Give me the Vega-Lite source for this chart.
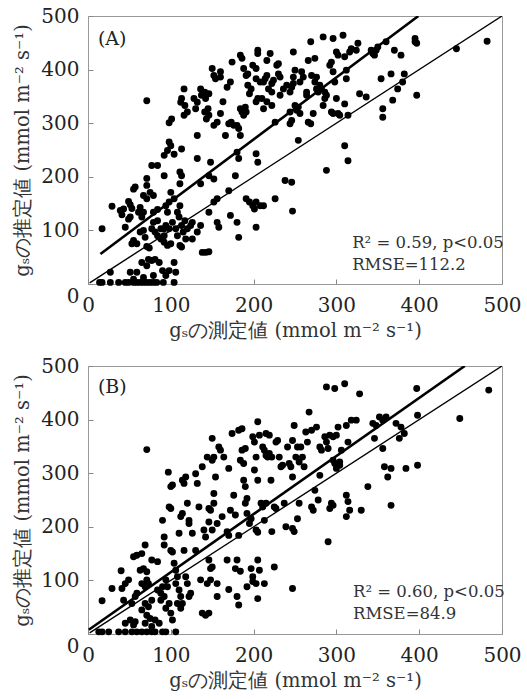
{
  "$schema": "https://vega.github.io/schema/vega-lite/v6.json",
  "background": "white",
  "padding": {"left": 12, "top": 5, "right": 10, "bottom": 5},
  "spacing": 15,
  "datasets": {
    "ptsA": [
      {"x":14,"y":3},{"x":17,"y":3},{"x":27,"y":3},{"x":37,"y":3},{"x":45,"y":3},{"x":49,"y":3},{"x":55,"y":3},{"x":59,"y":3},{"x":63,"y":3},{"x":67,"y":3},{"x":71,"y":3},{"x":75,"y":3},{"x":79,"y":3},{"x":83,"y":3},{"x":91,"y":3},{"x":104,"y":3},
      {"x":27,"y":22},{"x":51,"y":22},{"x":59,"y":22},{"x":71,"y":34},{"x":77,"y":44},{"x":65,"y":40},{"x":86,"y":40},{"x":90,"y":25},{"x":98,"y":25},{"x":104,"y":40},{"x":55,"y":9},{"x":67,"y":12},{"x":79,"y":16},{"x":94,"y":16},{"x":106,"y":22},{"x":73,"y":46},{"x":81,"y":46},
      {"x":17,"y":103},{"x":29,"y":145},{"x":39,"y":137},{"x":41,"y":129},{"x":43,"y":140},{"x":45,"y":106},{"x":49,"y":154},{"x":51,"y":148},{"x":53,"y":141},{"x":49,"y":121},{"x":51,"y":125},{"x":55,"y":177},{"x":57,"y":181},{"x":55,"y":81},{"x":53,"y":75},{"x":59,"y":75},{"x":61,"y":134},{"x":63,"y":143},{"x":65,"y":125},{"x":67,"y":134},{"x":71,"y":184},{"x":71,"y":197},{"x":67,"y":165},{"x":71,"y":159},{"x":63,"y":97},{"x":67,"y":100},{"x":69,"y":87},{"x":71,"y":70},{"x":74,"y":67},
      {"x":71,"y":342},{"x":77,"y":221},{"x":84,"y":221},{"x":79,"y":165},{"x":75,"y":171},{"x":79,"y":134},{"x":84,"y":139},{"x":79,"y":115},{"x":84,"y":118},{"x":77,"y":103},{"x":81,"y":97},{"x":88,"y":103},{"x":84,"y":90},{"x":88,"y":84},{"x":92,"y":90},{"x":92,"y":202},{"x":92,"y":240},{"x":96,"y":249},{"x":98,"y":265},{"x":100,"y":258},{"x":94,"y":146},{"x":98,"y":153},{"x":96,"y":134},{"x":104,"y":159},{"x":100,"y":171},{"x":94,"y":109},{"x":92,"y":103},{"x":98,"y":103},{"x":102,"y":115},{"x":96,"y":72},{"x":92,"y":78},{"x":100,"y":75},{"x":98,"y":301},{"x":101,"y":308},{"x":104,"y":242},
      {"x":106,"y":103},{"x":108,"y":90},{"x":111,"y":72},{"x":113,"y":69},{"x":108,"y":134},{"x":111,"y":146},{"x":111,"y":209},{"x":113,"y":202},{"x":111,"y":187},{"x":113,"y":252},{"x":112,"y":339},{"x":113,"y":346},{"x":116,"y":364},{"x":113,"y":109},{"x":117,"y":118},{"x":120,"y":103},{"x":124,"y":109},{"x":117,"y":333},{"x":120,"y":321},{"x":116,"y":315},{"x":126,"y":84},{"x":132,"y":97},{"x":128,"y":346},{"x":130,"y":327},{"x":132,"y":339},{"x":132,"y":277},{"x":136,"y":364},{"x":132,"y":234},{"x":136,"y":187},{"x":138,"y":59},{"x":142,"y":59},{"x":146,"y":60},{"x":136,"y":109},{"x":110,"y":125},{"x":115,"y":97},{"x":126,"y":115},{"x":118,"y":84},
      {"x":137,"y":352},{"x":141,"y":358},{"x":142,"y":346},{"x":146,"y":355},{"x":141,"y":321},{"x":145,"y":327},{"x":146,"y":315},{"x":143,"y":308},{"x":150,"y":402},{"x":152,"y":389},{"x":154,"y":383},{"x":148,"y":227},{"x":146,"y":202},{"x":152,"y":196},{"x":146,"y":134},{"x":152,"y":153},{"x":156,"y":159},{"x":156,"y":115},{"x":158,"y":106},{"x":152,"y":296},{"x":156,"y":302},{"x":160,"y":318},{"x":160,"y":396},{"x":160,"y":386},{"x":163,"y":340},{"x":168,"y":367},{"x":172,"y":377},{"x":166,"y":277},{"x":170,"y":299},{"x":173,"y":302},{"x":170,"y":174},{"x":172,"y":128},{"x":174,"y":414},
      {"x":176,"y":296},{"x":180,"y":296},{"x":182,"y":290},{"x":178,"y":202},{"x":180,"y":246},{"x":180,"y":115},{"x":182,"y":87},{"x":184,"y":427},{"x":186,"y":421},{"x":184,"y":327},{"x":186,"y":321},{"x":190,"y":330},{"x":188,"y":315},{"x":191,"y":321},{"x":184,"y":277},{"x":182,"y":234},{"x":188,"y":402},{"x":191,"y":389},{"x":193,"y":371},{"x":195,"y":355},{"x":197,"y":364},{"x":193,"y":392},{"x":191,"y":159},{"x":195,"y":153},{"x":199,"y":146},{"x":203,"y":153},{"x":201,"y":140},{"x":208,"y":146},{"x":212,"y":146},{"x":203,"y":106},
      {"x":199,"y":408},{"x":203,"y":402},{"x":205,"y":436},{"x":205,"y":430},{"x":203,"y":340},{"x":205,"y":346},{"x":203,"y":383},{"x":203,"y":243},{"x":205,"y":227},{"x":208,"y":377},{"x":212,"y":377},{"x":214,"y":383},{"x":216,"y":389},{"x":210,"y":346},{"x":212,"y":327},{"x":216,"y":340},{"x":222,"y":333},{"x":216,"y":417},{"x":220,"y":430},{"x":222,"y":374},{"x":224,"y":380},{"x":218,"y":364},{"x":222,"y":358},{"x":226,"y":302},{"x":228,"y":408},{"x":230,"y":392},{"x":230,"y":411},{"x":232,"y":386},{"x":226,"y":159},{"x":232,"y":352},{"x":236,"y":364},{"x":238,"y":193},
      {"x":240,"y":371},{"x":244,"y":358},{"x":244,"y":321},{"x":246,"y":305},{"x":244,"y":299},{"x":246,"y":367},{"x":248,"y":374},{"x":248,"y":433},{"x":250,"y":399},{"x":248,"y":386},{"x":246,"y":190},{"x":247,"y":136},{"x":250,"y":333},{"x":252,"y":324},{"x":254,"y":330},{"x":256,"y":318},{"x":254,"y":268},{"x":256,"y":377},{"x":260,"y":386},{"x":258,"y":396},{"x":264,"y":358},{"x":264,"y":352},{"x":266,"y":417},{"x":269,"y":452},{"x":266,"y":302},{"x":269,"y":299},{"x":272,"y":318},{"x":270,"y":389},{"x":274,"y":377},{"x":276,"y":386},{"x":276,"y":364},{"x":278,"y":358},{"x":280,"y":371},{"x":274,"y":421},
      {"x":284,"y":461},{"x":286,"y":346},{"x":284,"y":333},{"x":282,"y":364},{"x":286,"y":358},{"x":288,"y":352},{"x":288,"y":212},{"x":292,"y":408},{"x":294,"y":414},{"x":296,"y":396},{"x":298,"y":377},{"x":296,"y":458},{"x":294,"y":321},{"x":296,"y":318},{"x":300,"y":346},{"x":300,"y":433},{"x":302,"y":427},{"x":302,"y":318},{"x":304,"y":315},{"x":308,"y":464},{"x":310,"y":424},{"x":312,"y":383},{"x":312,"y":399},{"x":310,"y":258},{"x":314,"y":230},{"x":310,"y":336},{"x":314,"y":315},{"x":316,"y":433},{"x":318,"y":439},{"x":324,"y":436},{"x":326,"y":449},{"x":328,"y":355},{"x":336,"y":349},
      {"x":342,"y":436},{"x":344,"y":430},{"x":346,"y":427},{"x":348,"y":436},{"x":350,"y":442},{"x":354,"y":383},{"x":356,"y":311},{"x":356,"y":327},{"x":360,"y":452},{"x":366,"y":392},{"x":368,"y":343},{"x":370,"y":436},{"x":374,"y":364},{"x":378,"y":427},{"x":380,"y":377},{"x":382,"y":392},{"x":395,"y":458},{"x":395,"y":452},{"x":397,"y":449},{"x":397,"y":352},{"x":445,"y":439},{"x":482,"y":453}
    ],
    "ptsB": [
      {"x":13,"y":4},{"x":17,"y":4},{"x":25,"y":4},{"x":37,"y":4},{"x":45,"y":4},{"x":53,"y":4},{"x":59,"y":4},{"x":65,"y":4},{"x":71,"y":4},{"x":77,"y":4},{"x":81,"y":4},{"x":90,"y":4},{"x":94,"y":4},{"x":106,"y":4},
      {"x":17,"y":62},{"x":29,"y":85},{"x":40,"y":118},{"x":41,"y":85},{"x":43,"y":63},{"x":45,"y":94},{"x":49,"y":101},{"x":45,"y":20},{"x":51,"y":26},{"x":55,"y":17},{"x":57,"y":23},{"x":53,"y":57},{"x":57,"y":70},{"x":59,"y":76},{"x":55,"y":144},{"x":59,"y":147},{"x":65,"y":150},{"x":69,"y":166},{"x":63,"y":119},{"x":67,"y":122},{"x":71,"y":116},{"x":65,"y":94},{"x":69,"y":88},{"x":73,"y":94},{"x":71,"y":101},{"x":69,"y":57},{"x":73,"y":51},{"x":77,"y":63},{"x":65,"y":45},{"x":71,"y":35},{"x":75,"y":29},{"x":81,"y":26},{"x":86,"y":20},{"x":77,"y":14},{"x":69,"y":20},
      {"x":71,"y":344},{"x":77,"y":138},{"x":84,"y":135},{"x":84,"y":82},{"x":88,"y":76},{"x":90,"y":88},{"x":92,"y":70},{"x":88,"y":63},{"x":90,"y":212},{"x":92,"y":181},{"x":92,"y":166},{"x":94,"y":101},{"x":96,"y":88},{"x":98,"y":57},{"x":94,"y":48},{"x":100,"y":39},{"x":102,"y":26},{"x":97,"y":302},{"x":98,"y":237},{"x":100,"y":234},{"x":100,"y":275},{"x":102,"y":278},{"x":100,"y":156},{"x":102,"y":153},{"x":104,"y":132},{"x":106,"y":119},{"x":108,"y":107},{"x":106,"y":94},{"x":110,"y":82},{"x":112,"y":70},{"x":108,"y":57},{"x":112,"y":48},{"x":114,"y":57},
      {"x":110,"y":188},{"x":112,"y":219},{"x":114,"y":225},{"x":114,"y":287},{"x":116,"y":281},{"x":118,"y":293},{"x":116,"y":156},{"x":118,"y":107},{"x":120,"y":94},{"x":122,"y":70},{"x":124,"y":76},{"x":120,"y":244},{"x":122,"y":212},{"x":122,"y":206},{"x":126,"y":188},{"x":130,"y":156},{"x":130,"y":299},{"x":132,"y":281},{"x":134,"y":237},{"x":136,"y":101},{"x":138,"y":312},{"x":140,"y":194},{"x":142,"y":181},{"x":138,"y":39},{"x":142,"y":35},{"x":146,"y":39},{"x":144,"y":330},{"x":146,"y":234},{"x":148,"y":231},{"x":146,"y":209},{"x":150,"y":194},{"x":146,"y":138},{"x":148,"y":122},{"x":150,"y":125},{"x":144,"y":94},{"x":148,"y":101},
      {"x":150,"y":365},{"x":152,"y":330},{"x":150,"y":324},{"x":152,"y":262},{"x":152,"y":244},{"x":156,"y":70},{"x":156,"y":94},{"x":154,"y":293},{"x":156,"y":206},{"x":158,"y":349},{"x":160,"y":343},{"x":162,"y":219},{"x":164,"y":330},{"x":168,"y":191},{"x":170,"y":184},{"x":168,"y":138},{"x":170,"y":83},{"x":170,"y":309},{"x":172,"y":231},{"x":174,"y":374},{"x":176,"y":259},{"x":178,"y":222},{"x":178,"y":122},{"x":180,"y":70},{"x":182,"y":54},{"x":180,"y":138},{"x":182,"y":184},
      {"x":182,"y":380},{"x":186,"y":383},{"x":184,"y":324},{"x":188,"y":318},{"x":184,"y":117},{"x":186,"y":343},{"x":190,"y":346},{"x":188,"y":287},{"x":190,"y":275},{"x":192,"y":253},{"x":190,"y":244},{"x":192,"y":225},{"x":195,"y":206},{"x":197,"y":215},{"x":192,"y":88},{"x":197,"y":122},{"x":199,"y":107},{"x":199,"y":368},{"x":201,"y":358},{"x":203,"y":330},{"x":199,"y":98},{"x":203,"y":94},{"x":205,"y":66},{"x":203,"y":194},{"x":205,"y":190},{"x":205,"y":138},{"x":207,"y":119},{"x":201,"y":306},{"x":205,"y":287},{"x":205,"y":396},{"x":207,"y":371},
      {"x":209,"y":244},{"x":211,"y":237},{"x":213,"y":94},{"x":211,"y":349},{"x":213,"y":343},{"x":215,"y":333},{"x":217,"y":330},{"x":219,"y":337},{"x":222,"y":330},{"x":213,"y":212},{"x":215,"y":244},{"x":215,"y":374},{"x":219,"y":371},{"x":221,"y":287},{"x":222,"y":191},{"x":225,"y":125},{"x":225,"y":237},{"x":227,"y":234},{"x":227,"y":358},{"x":229,"y":361},{"x":231,"y":330},{"x":233,"y":312},{"x":235,"y":315},{"x":237,"y":244},{"x":239,"y":200},
      {"x":241,"y":349},{"x":243,"y":318},{"x":245,"y":312},{"x":247,"y":293},{"x":247,"y":361},{"x":249,"y":389},{"x":247,"y":197},{"x":249,"y":191},{"x":247,"y":85},{"x":251,"y":330},{"x":253,"y":349},{"x":255,"y":321},{"x":253,"y":215},{"x":255,"y":244},{"x":257,"y":349},{"x":259,"y":330},{"x":261,"y":312},{"x":263,"y":377},{"x":265,"y":358},{"x":267,"y":414},{"x":270,"y":380},{"x":270,"y":237},{"x":272,"y":231},{"x":274,"y":268},{"x":276,"y":386},{"x":278,"y":250},{"x":280,"y":349},{"x":280,"y":296},{"x":282,"y":343},{"x":286,"y":368},
      {"x":288,"y":461},{"x":290,"y":346},{"x":290,"y":172},{"x":288,"y":358},{"x":292,"y":234},{"x":294,"y":244},{"x":296,"y":240},{"x":292,"y":371},{"x":296,"y":368},{"x":300,"y":371},{"x":298,"y":458},{"x":296,"y":324},{"x":298,"y":318},{"x":300,"y":309},{"x":302,"y":386},{"x":304,"y":315},{"x":304,"y":321},{"x":306,"y":343},{"x":310,"y":467},{"x":312,"y":259},{"x":312,"y":219},{"x":312,"y":389},{"x":314,"y":358},{"x":316,"y":231},{"x":314,"y":247},{"x":318,"y":399},{"x":324,"y":399},{"x":328,"y":448},{"x":330,"y":231},{"x":338,"y":275},
      {"x":344,"y":393},{"x":346,"y":365},{"x":348,"y":389},{"x":352,"y":405},{"x":356,"y":399},{"x":356,"y":346},{"x":358,"y":312},{"x":360,"y":405},{"x":362,"y":293},{"x":366,"y":309},{"x":366,"y":240},{"x":372,"y":393},{"x":376,"y":365},{"x":378,"y":386},{"x":382,"y":374},{"x":384,"y":309},{"x":397,"y":458},{"x":398,"y":408},{"x":398,"y":315},{"x":449,"y":402},{"x":484,"y":455}
    ],
    "linesA": [
      {"x":15,"y":56,"k":"fit"},{"x":399,"y":500,"k":"fit"},{"x":2,"y":2,"k":"one"},{"x":500,"y":500,"k":"one"}
    ],
    "linesB": [
      {"x":1,"y":8,"k":"fit"},{"x":455,"y":500,"k":"fit"},{"x":2,"y":2,"k":"one"},{"x":500,"y":500,"k":"one"}
    ],
    "notesA": [
      {"x":319,"y":77,"t":"R² = 0.59, p<0.05"},{"x":319,"y":35,"t":"RMSE=112.2"}
    ],
    "notesB": [
      {"x":320,"y":79,"t":"R² = 0.60, p<0.05"},{"x":320,"y":38,"t":"RMSE=84.9"}
    ],
    "tagA": [{"x":12,"y":457,"t":"(A)"}],
    "tagB": [{"x":12,"y":460,"t":"(B)"}]
  },
  "vconcat": [
    {
      "width": 414, "height": 268,
      "layer": [
        {"data": {"name": "ptsA"}, "mark": {"type": "circle", "size": 48, "opacity": 1, "color": "black"},
         "encoding": {
           "x": {"field": "x", "type": "quantitative", "scale": {"domain": [0, 500], "nice": false}, "axis": {"title": "gₛの測定値 (mmol m⁻² s⁻¹)", "values": [0,100,200,300,400,500]}},
           "y": {"field": "y", "type": "quantitative", "scale": {"domain": [0, 500], "nice": false}, "axis": {"title": "gₛの推定値 (mmol m⁻² s⁻¹)", "values": [0,100,200,300,400,500], "labelOffset": {"condition": {"test": "datum.value == 0", "value": 12}, "value": 0}}}
         }},
        {"data": {"name": "linesA"}, "mark": {"type": "line", "color": "black", "clip": true},
         "encoding": {
           "x": {"field": "x", "type": "quantitative"},
           "y": {"field": "y", "type": "quantitative"},
           "detail": {"field": "k"},
           "strokeWidth": {"field": "k", "type": "nominal", "scale": {"domain": ["fit", "one"], "range": [2.6, 1.4]}, "legend": null}
         }},
        {"data": {"name": "notesA"}, "mark": {"type": "text", "align": "left", "baseline": "middle", "font": "DejaVu Serif", "fontSize": 16.5, "color": "#333"},
         "encoding": {"x": {"field": "x", "type": "quantitative"}, "y": {"field": "y", "type": "quantitative"}, "text": {"field": "t"}}},
        {"data": {"name": "tagA"}, "mark": {"type": "text", "align": "left", "baseline": "middle", "font": "DejaVu Serif", "fontSize": 19, "color": "#222"},
         "encoding": {"x": {"field": "x", "type": "quantitative"}, "y": {"field": "y", "type": "quantitative"}, "text": {"field": "t"}}}
      ]
    },
    {
      "width": 414, "height": 268,
      "layer": [
        {"data": {"name": "ptsB"}, "mark": {"type": "circle", "size": 48, "opacity": 1, "color": "black"},
         "encoding": {
           "x": {"field": "x", "type": "quantitative", "scale": {"domain": [0, 500], "nice": false}, "axis": {"title": "gₛの測定値 (mmol m⁻² s⁻¹)", "values": [0,100,200,300,400,500]}},
           "y": {"field": "y", "type": "quantitative", "scale": {"domain": [0, 500], "nice": false}, "axis": {"title": "gₛの推定値 (mmol m⁻² s⁻¹)", "values": [0,100,200,300,400,500], "labelOffset": {"condition": {"test": "datum.value == 0", "value": 12}, "value": 0}}}
         }},
        {"data": {"name": "linesB"}, "mark": {"type": "line", "color": "black", "clip": true},
         "encoding": {
           "x": {"field": "x", "type": "quantitative"},
           "y": {"field": "y", "type": "quantitative"},
           "detail": {"field": "k"},
           "strokeWidth": {"field": "k", "type": "nominal", "scale": {"domain": ["fit", "one"], "range": [2.6, 1.4]}, "legend": null}
         }},
        {"data": {"name": "notesB"}, "mark": {"type": "text", "align": "left", "baseline": "middle", "font": "DejaVu Serif", "fontSize": 16.5, "color": "#333"},
         "encoding": {"x": {"field": "x", "type": "quantitative"}, "y": {"field": "y", "type": "quantitative"}, "text": {"field": "t"}}},
        {"data": {"name": "tagB"}, "mark": {"type": "text", "align": "left", "baseline": "middle", "font": "DejaVu Serif", "fontSize": 19, "color": "#222"},
         "encoding": {"x": {"field": "x", "type": "quantitative"}, "y": {"field": "y", "type": "quantitative"}, "text": {"field": "t"}}}
      ]
    }
  ],
  "config": {
    "view": {"stroke": "#999", "strokeWidth": 1},
    "axis": {
      "domain": false, "grid": false,
      "ticks": true, "tickSize": -5, "tickColor": "#888",
      "labelFont": "DejaVu Serif", "labelFontSize": 20, "labelColor": "#222", "labelPadding": 14,
      "labelFlush": false, "labelOverlap": false,
      "titleFont": "DejaVu Serif", "titleFontSize": 19.5, "titleFontWeight": "normal", "titleColor": "#333"
    },
    "axisX": {"titlePadding": 6, "labelPadding": 16},
    "axisY": {"titlePadding": 8}
  }
}
